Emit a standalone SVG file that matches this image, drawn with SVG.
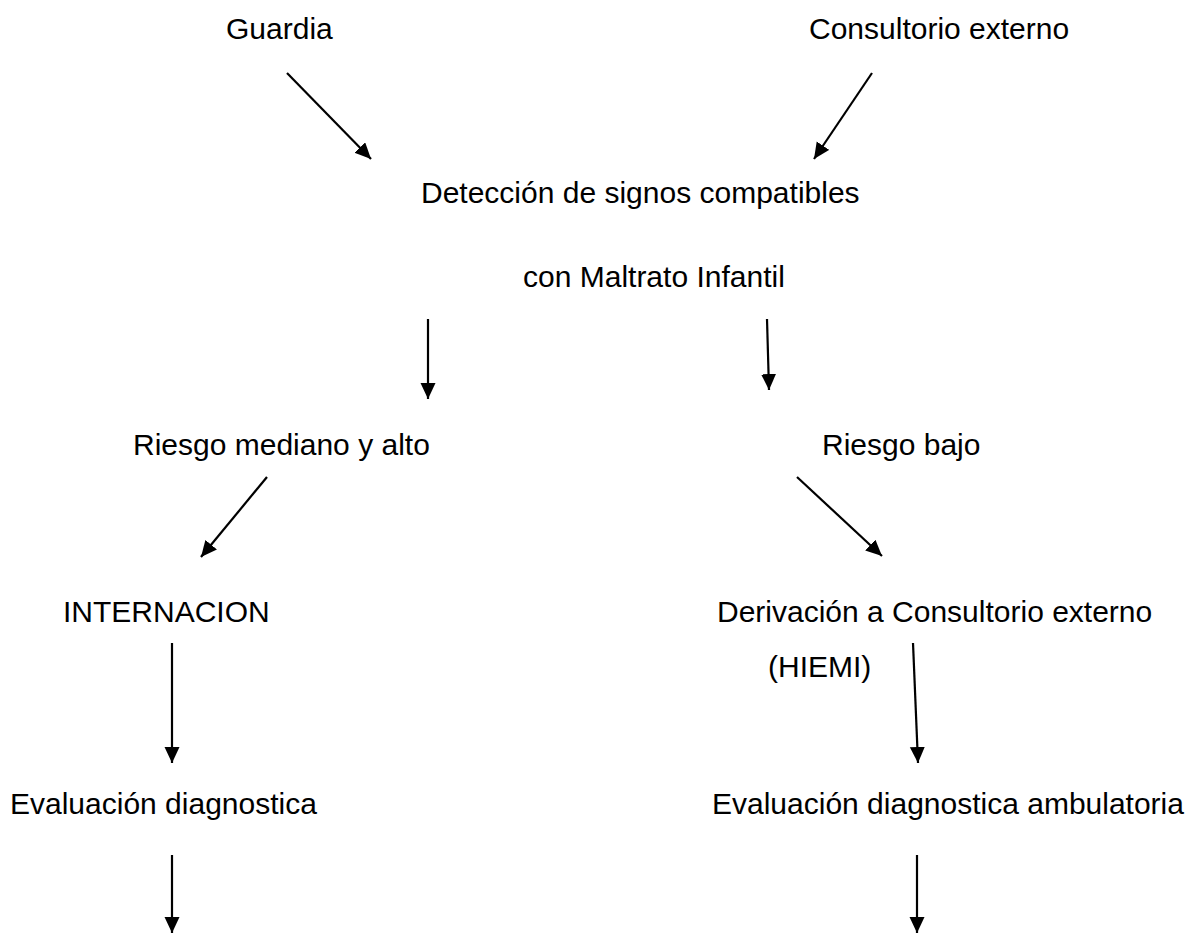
<svg xmlns="http://www.w3.org/2000/svg" width="1192" height="933" viewBox="0 0 1192 933">
<style>
text{font-family:"Liberation Sans",Arial,sans-serif;font-size:30px;fill:#000}
.c line{stroke:#000;stroke-width:2.2;marker-end:url(#ah)}
</style>
<defs>
<marker id="ah" markerUnits="userSpaceOnUse" markerWidth="18" markerHeight="16" refX="16" refY="7.5" orient="auto">
<path d="M0,0 L16,7.5 L0,15 z" fill="#000"/>
</marker>
</defs>
<rect width="1192" height="933" fill="#fff"/>
<g id="n-guardia"><text x="226" y="39">Guardia</text></g>
<g id="n-consultorio"><text x="809" y="39">Consultorio externo</text></g>
<g id="n-deteccion"><text x="421" y="203">Detección de signos compatibles</text><text x="523" y="287">con Maltrato Infantil</text></g>
<g id="n-riesgo-alto"><text x="133" y="455">Riesgo mediano y alto</text></g>
<g id="n-riesgo-bajo"><text x="822" y="455">Riesgo bajo</text></g>
<g id="n-internacion"><text x="63" y="622">INTERNACION</text></g>
<g id="n-derivacion"><text x="717" y="622">Derivación a Consultorio externo</text><text x="768" y="677">(HIEMI)</text></g>
<g id="n-eval"><text x="10" y="814">Evaluación diagnostica</text></g>
<g id="n-eval-amb"><text x="712" y="814">Evaluación diagnostica ambulatoria</text></g>
<g id="connectors" class="c">
<line x1="287" y1="73" x2="371" y2="159"/>
<line x1="872" y1="73" x2="814" y2="159"/>
<line x1="428" y1="319" x2="428" y2="399"/>
<line x1="767" y1="319" x2="769" y2="390"/>
<line x1="267" y1="477" x2="201" y2="557"/>
<line x1="797" y1="477" x2="882" y2="556"/>
<line x1="172" y1="643" x2="172" y2="763"/>
<line x1="913" y1="643" x2="918" y2="763"/>
<line x1="172" y1="855" x2="172" y2="933"/>
<line x1="917" y1="855" x2="917" y2="933"/>
</g>
</svg>
